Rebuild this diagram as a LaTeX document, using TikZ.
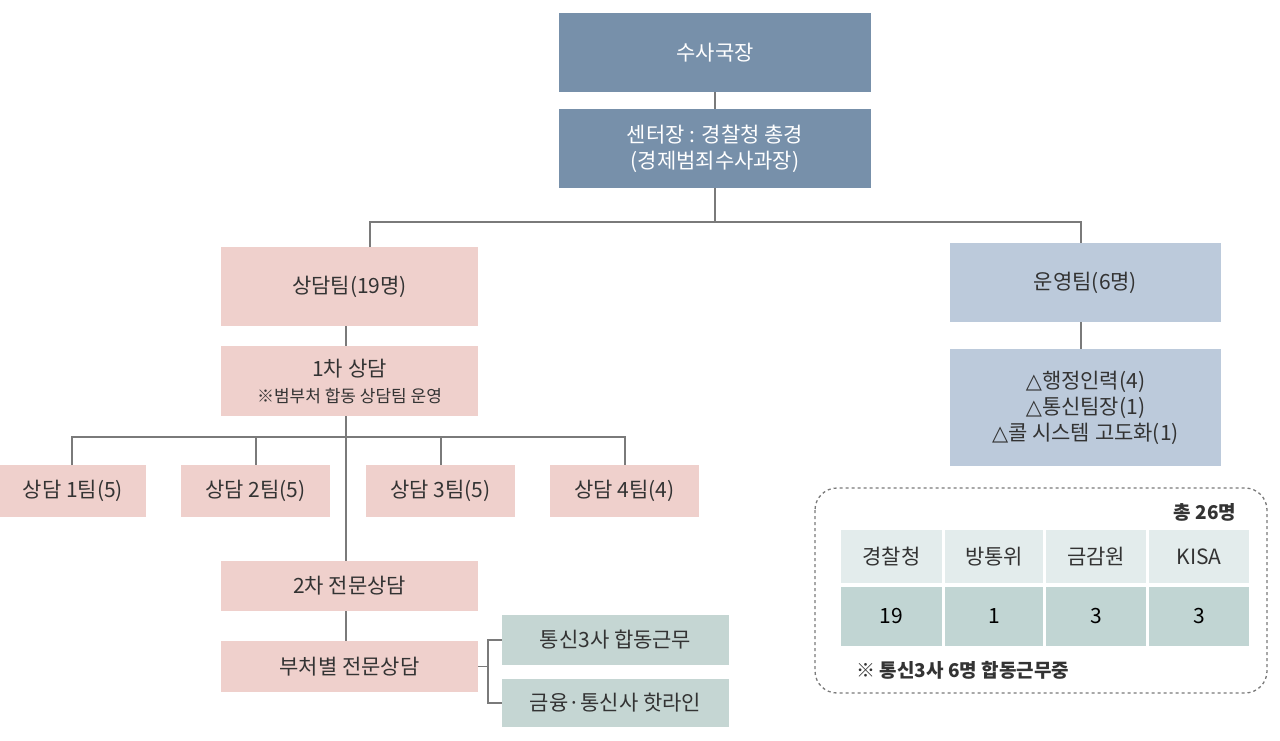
\documentclass[tikz,border=0pt]{standalone}
\usepackage{fontspec}
\setmainfont{Noto Sans CJK KR}
\newfontfamily\symf{DejaVu Sans}
\begin{document}
\begin{tikzpicture}[x=1pt,y=-1pt,
 box/.style={minimum width=#1,inner sep=0pt,align=center,font=\fontsize{21}{26}\selectfont},
 dark/.style={fill=dk,text=white},
 pink/.style={fill=pk,text=tx},
 lb/.style={fill=lbl,text=tx},
 gr/.style={fill=grn,text=tx},
 ln/.style={draw=lin,line width=1.5pt}]
\definecolor{dk}{HTML}{7790AA}
\definecolor{pk}{HTML}{EFD0CC}
\definecolor{lbl}{HTML}{BCCADB}
\definecolor{grn}{HTML}{C5D6D3}
\definecolor{hd}{HTML}{E3ECEC}
\definecolor{vl}{HTML}{C1D5D3}
\definecolor{lin}{HTML}{7A7A7A}
\definecolor{tx}{HTML}{333333}
\useasboundingbox (0,0) rectangle (1280,740);
\node[box=312pt,dark,minimum height=79pt] (a) at (715,52.5) {수사국장};
\node[box=312pt,dark,minimum height=79pt] (b) at (715,148.5) {센터장 : 경찰청 총경\\(경제범죄수사과장)};
\node[box=257pt,pink,minimum height=79pt] (c) at (349.5,286.5) {상담팀(19명)};
\node[box=271pt,lb,minimum height=79pt] (d) at (1085.5,282.5) {운영팀(6명)};
\node[box=257pt,pink,minimum height=70pt] (e) at (349.5,381) {1차 상담\\{\fontsize{17}{20}\selectfont ※범부처 합동 상담팀 운영}};
\node[box=271pt,lb,minimum height=117pt] (f) at (1085.5,407.5) {{\symf △}행정인력(4)\\{\symf △}통신팀장(1)\\{\symf △}콜 시스템 고도화(1)};
\node[box=146pt,pink,minimum height=52pt] (t1) at (73,491) {상담 1팀(5)};
\node[box=149pt,pink,minimum height=52pt] (t2) at (255.5,491) {상담 2팀(5)};
\node[box=149pt,pink,minimum height=52pt] (t3) at (440.5,491) {상담 3팀(5)};
\node[box=149pt,pink,minimum height=52pt] (t4) at (624.5,491) {상담 4팀(4)};
\node[box=257pt,pink,minimum height=50pt] (g) at (349.5,586) {2차 전문상담};
\node[box=257pt,pink,minimum height=51pt] (h) at (349.5,666.5) {부처별 전문상담};
\node[box=227pt,gr,minimum height=50pt] (i) at (615.5,640) {통신3사 합동근무};
\node[box=227pt,gr,minimum height=48pt] (j) at (615.5,703) {금융·통신사 핫라인};
\coordinate (p1) at (715,222);
\coordinate (p2) at (346,437);
\coordinate (p3) at (488,666.5);
\draw[ln] (a) -- (b);
\draw[ln] (b) -- (p1);
\draw[ln] (370,247) -- (370,222) -- (1081,222) -- (1081,243);
\draw[ln] (c.south -| p2) -- (e.north -| p2);
\draw[ln] (e.south -| p2) -- (g.north -| p2);
\draw[ln] (g.south -| p2) -- (h.north -| p2);
\draw[ln] (72,465) -- (72,437) -- (625,437) -- (625,465);
\draw[ln] (256,437) -- (256,465);
\draw[ln] (441,437) -- (441,465);
\draw[ln] (d.south -| 1081,0) -- (f.north -| 1081,0);
\draw[ln] (h.east) -- (p3);
\draw[ln] (i.west) -- (488,640) -- (488,703) -- (j.west);
\draw[lin,line width=1.3pt,dashed,rounded corners=22pt] (815,488) rectangle (1267,693);
\node[font=\bfseries\fontsize{19}{22}\selectfont,text=tx] (tot) at (1205,512) {총 26명};
\foreach \x/\w/\h/\v [count=\k] in {891.5/101/경찰청/19, 994/98/방통위/1, 1096/100/금감원/3, 1199/100/KISA/3}{
 \node[box=\w pt,fill=hd,text=tx,minimum height=53pt] (h\k) at (\x,556.5) {\h};
 \node[box=\w pt,fill=vl,text=black,minimum height=59pt] (v\k) at (\x,616.5) {\v};
}
\node[font=\bfseries\fontsize{19}{22}\selectfont,text=tx,anchor=west] (note) at (853,670) {※ 통신3사 6명 합동근무중};
\end{tikzpicture}
\end{document}
